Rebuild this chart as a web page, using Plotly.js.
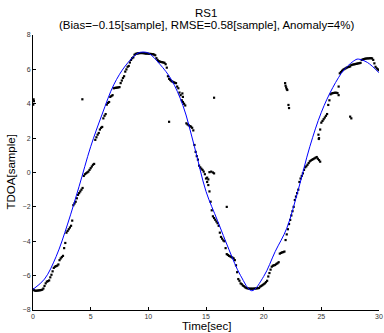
<!DOCTYPE html>
<html>
<head>
<meta charset="utf-8">
<script src="https://cdn.plot.ly/plotly-3.0.1.min.js"></script>
<style>
  html, body { margin: 0; padding: 0; background: #fff; }
  #chart { width: 384px; height: 333px; }
</style>
</head>
<body>
<div id="chart"></div>
<script>
// True TDOA curve (blue)
const trueTime = [0,1,2,3,4,5,6,7,8,9,9.4,10,11,12,13,14,15,16,17,18,18.97,20,21,22,23,24,25,26,27,28,28.2,29,30];
const trueTdoa = [-6.8,-6.2,-4.9,-3.0,-0.8,1.5,3.4,5.1,6.2,6.9,7.0,6.95,6.3,5.4,3.9,1.5,-1.1,-2.8,-4.5,-6.0,-6.88,-6.05,-4.6,-3.25,-1.0,1.5,3.5,4.95,6.0,6.57,6.6,6.4,5.8];

// Estimated TDOA (black dots), one value every 0.1 s from t = 0 to 30
const estStep = 0.1;
const estTdoa = [
  -6.80,-6.85,-6.88,-6.88,-6.87,-6.86,-6.85,-6.84,-6.82,-6.75,
  -6.60,-6.45,-6.35,-6.32,-6.28,-6.10,-5.95,-5.75,-5.55,-5.48,
  -5.45,-5.42,-5.35,-5.10,-5.00,-4.92,-4.85,-4.40,-4.10,-3.50,
  -3.40,-3.30,-3.20,-3.10,-2.80,-1.90,-1.80,-1.70,-1.50,-1.30,
  -1.20,-1.10,-1.00,-0.90,-0.20,-0.10,-0.05,0.00,0.05,0.15,
  0.25,0.35,0.45,0.50,1.90,2.05,2.20,2.30,2.50,2.60,
  2.65,3.15,3.30,3.40,3.95,4.05,4.10,4.40,4.45,4.50,
  4.90,4.92,4.93,4.94,4.95,4.97,5.20,5.35,5.50,5.60,
  5.87,6.00,6.15,6.20,6.40,6.55,6.65,6.70,6.85,6.90,
  6.92,6.93,6.94,6.95,6.95,6.95,6.94,6.93,6.92,6.92,
  6.91,6.90,6.90,6.89,6.88,6.86,6.82,6.65,6.55,6.48,
  6.45,6.43,6.42,6.40,6.38,6.30,6.10,5.60,5.45,5.38,
  5.32,5.28,5.25,5.22,5.20,5.00,4.90,4.65,4.50,4.20,
  4.10,4.00,3.90,2.86,2.80,2.75,2.70,2.67,2.60,2.45,
  1.60,1.20,0.95,0.75,0.40,0.30,0.22,0.15,0.05,-0.10,
  -0.35,-0.55,-0.73,-1.10,-1.70,-2.20,-2.55,-2.65,-2.75,-2.85,
  -2.95,-3.10,-3.50,-3.75,-3.85,-3.95,-4.00,-4.40,-4.75,-4.80,
  -4.85,-4.88,-4.92,-4.96,-5.00,-5.10,-5.40,-5.80,-6.20,-6.30,
  -6.45,-6.50,-6.58,-6.62,-6.68,-6.72,-6.74,-6.75,-6.76,-6.76,
  -6.76,-6.76,-6.75,-6.75,-6.74,-6.73,-6.72,-6.64,-6.60,-6.55,
  -6.50,-6.45,-6.38,-6.30,-6.05,-5.85,-5.65,-5.48,-5.42,-5.40,
  -5.38,-5.32,-5.28,-5.22,-4.72,-4.68,-4.65,-4.63,-4.60,-3.93,
  -3.60,-3.30,-3.00,-2.76,-2.50,-2.25,-2.00,-1.60,-1.40,-1.20,
  -1.00,-0.55,-0.35,-0.20,-0.05,0.15,0.30,0.36,0.45,0.55,
  0.65,0.70,0.74,0.78,0.82,0.86,0.90,0.80,2.00,2.50,
  2.90,3.00,3.10,3.20,3.30,3.40,3.93,4.20,4.55,4.60,
  4.62,4.63,4.64,4.64,4.62,4.50,5.77,5.85,5.92,5.98,
  6.02,6.06,6.10,6.13,6.15,6.17,6.25,6.27,6.29,6.30,
  6.32,6.33,6.35,6.36,6.38,6.55,6.58,6.60,6.62,6.63,
  6.64,6.64,6.65,6.65,6.64,6.55,6.35,6.15,6.06,6.00,
  5.96
];

// Extra estimated points (anomalies and sparse dots)
const extraTime = [0.02,0.05,0.08,4.28,11.8,12.95,13.0,15.1,15.2,15.3,15.45,15.6,15.7,15.7,16.8,21.86,21.9,21.95,22.0,22.05,22.15,22.2,24.75,24.78,24.8,24.9,26.5,27.5,27.6];
const extraTdoa = [3.95,4.25,4.15,4.26,2.95,4.6,4.4,-0.3,-0.4,0.02,0.05,0.0,-0.05,4.35,-2.0,5.2,5.05,4.95,4.85,4.8,3.93,3.75,2.2,1.95,0.72,0.63,5.0,3.25,3.15];

const xTicks = [0,5,10,15,20,25,30];
const yTicks = [-8,-6,-4,-2,0,2,4,6,8];

const estTime = estTdoa.map((_, i) => +(i * estStep).toFixed(2));

const dotStyle = {color: '#000000', size: 2.2, symbol: 'square', line: {width: 0}};

const traces = [
  {x: estTime, y: estTdoa, type: 'scatter', mode: 'markers', marker: dotStyle, hoverinfo: 'skip'},
  {x: extraTime, y: extraTdoa, type: 'scatter', mode: 'markers', marker: dotStyle, hoverinfo: 'skip'},
  {x: trueTime, y: trueTdoa, type: 'scatter', mode: 'lines',
   line: {color: '#0000ff', width: 1, shape: 'spline', smoothing: 1}, hoverinfo: 'skip'}
];

const fontFam = '"Liberation Sans", Arial, Helvetica, sans-serif';

const axisCommon = {
  showline: true, linecolor: '#000', linewidth: 1, mirror: false,
  ticks: 'inside', ticklen: 3, tickwidth: 1, tickcolor: '#000',
  showgrid: false, zeroline: false,
  tickfont: {family: fontFam, size: 7, color: '#333'},
  fixedrange: true
};

const layout = {
  width: 384, height: 333,
  margin: {l: 33, r: 5, t: 35, b: 23, pad: 0},
  paper_bgcolor: '#fff', plot_bgcolor: '#fff',
  showlegend: false,
  font: {family: fontFam, color: '#000'},
  xaxis: Object.assign({}, axisCommon, {range: [0, 30], tickvals: xTicks, ticktext: xTicks.map(String)}),
  yaxis: Object.assign({}, axisCommon, {range: [-8, 8], tickvals: yTicks, ticktext: yTicks.map(v => v < 0 ? '\u2212' + Math.abs(v) : String(v))}),
  annotations: [
    {text: 'RS1', xref: 'paper', yref: 'paper', x: 0.5, y: 1, yshift: 22, xanchor: 'center', yanchor: 'middle',
     showarrow: false, font: {family: fontFam, size: 11.5, color: '#000'}},
    {text: '(Bias=\u22120.15[sample], RMSE=0.58[sample], Anomaly=4%)', xref: 'paper', yref: 'paper', x: 0.5, y: 1, yshift: 10,
     xanchor: 'center', yanchor: 'middle', showarrow: false, font: {family: fontFam, size: 11.5, color: '#000'}},
    {text: 'Time[sec]', xref: 'paper', yref: 'paper', x: 0.5, y: 0, yshift: -16, xanchor: 'center', yanchor: 'middle',
     showarrow: false, font: {family: fontFam, size: 11.5, color: '#000'}},
    {text: 'TDOA[sample]', xref: 'paper', yref: 'paper', x: 0, y: 0.5, xshift: -23, xanchor: 'center', yanchor: 'middle',
     textangle: -90, showarrow: false, font: {family: fontFam, size: 11.5, color: '#000'}}
  ]
};

Plotly.newPlot('chart', traces, layout, {staticPlot: true, displayModeBar: false});
</script>
</body>
</html>
